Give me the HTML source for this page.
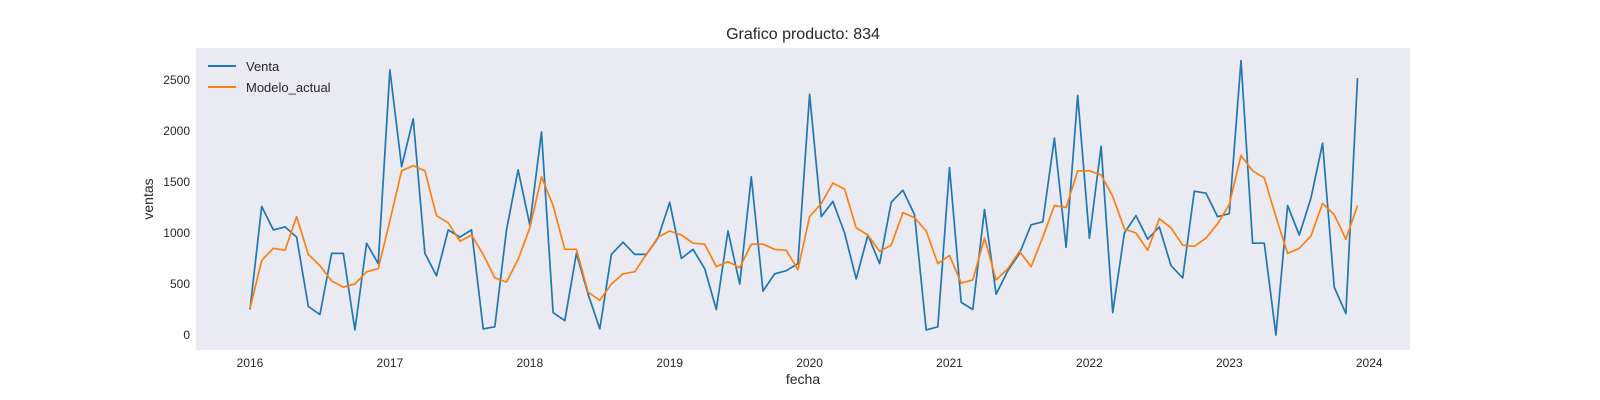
<!DOCTYPE html>
<html><head><meta charset="utf-8"><style>
body{margin:0;background:#fff;}
svg{display:block;font-family:"Liberation Sans",sans-serif;}
</style></head><body>
<svg id="chart" width="1600" height="400">
<rect x="196" y="48" width="1214" height="302" fill="#eaeaf2"/>
<text x="803" y="39" font-size="16" text-anchor="middle" fill="#262626">Grafico producto: 834</text>
<text x="803" y="384" font-size="14" text-anchor="middle" fill="#262626">fecha</text>
<text transform="translate(153,199) rotate(-90)" font-size="14" text-anchor="middle" fill="#262626">ventas</text>
<g id="xt"></g><g id="yt"></g><g id="lines"></g>
<g>
<line x1="208" y1="66" x2="236" y2="66" stroke="#1f77b4" stroke-width="2"/>
<text x="246" y="71" font-size="13" fill="#262626">Venta</text>
<line x1="208" y1="87" x2="236" y2="87" stroke="#ff7f0e" stroke-width="2"/>
<text x="246" y="92" font-size="13" fill="#262626">Modelo_actual</text>
</g>
</svg>
<script>
const years=[2016,2017,2018,2019,2020,2021,2022,2023,2024];
const yTicks=[0,500,1000,1500,2000,2500];
const venta=[250,1260,1030,1060,960,280,200,800,800,50,900,700,
2600,1650,2120,800,580,1030,960,1030,60,80,1030,1620,
1080,1990,220,140,800,400,60,790,910,790,790,950,
1300,750,840,650,250,1020,500,1550,430,600,630,700,
2360,1160,1310,1000,550,980,700,1300,1420,1180,50,80,
1640,320,250,1230,400,630,800,1080,1110,1930,860,2350,
950,1850,220,1000,1170,940,1060,680,560,1410,1390,1160,
1190,2690,900,900,0,1270,980,1340,1880,470,210,2520];
const modelo=[260,730,850,830,1160,790,680,530,470,500,620,650,
1120,1610,1660,1610,1170,1100,920,980,790,560,520,740,
1050,1550,1270,840,840,420,340,500,600,620,790,960,
1020,980,900,890,670,720,660,890,890,840,830,640,
1160,1290,1490,1430,1050,980,820,880,1200,1150,1020,700,
780,510,540,950,540,650,820,670,960,1270,1250,1610,
1610,1570,1360,1040,1000,830,1140,1050,880,870,950,1090,
1280,1760,1610,1540,1160,800,850,970,1290,1180,940,1270];
const NS="http://www.w3.org/2000/svg";
const xs=t=>250+(t-2016)*139.9;
const xi=i=>xs(2016+i/12);
const ys=v=>335-v*0.102;
const xt=document.getElementById('xt'),yt=document.getElementById('yt'),lg=document.getElementById('lines');
years.forEach(y=>{
 const t=document.createElementNS(NS,'text');
 
 
 t.setAttribute('x',xs(y));t.setAttribute('y',367);t.setAttribute('font-size','12');
 t.setAttribute('text-anchor','middle');t.setAttribute('fill','#262626');t.textContent=y;xt.appendChild(t);
});
yTicks.forEach(v=>{
 const t=document.createElementNS(NS,'text');
 
 
 t.setAttribute('x',190);t.setAttribute('y',ys(v)+4);t.setAttribute('font-size','12');
 t.setAttribute('text-anchor','end');t.setAttribute('fill','#262626');t.textContent=v;yt.appendChild(t);
});
function line(arr,color,name){
 const p=document.createElementNS(NS,'polyline');
 
 
 p.setAttribute('points',arr.map((v,i)=>xi(i).toFixed(1)+','+ys(v).toFixed(1)).join(' '));
 p.setAttribute('fill','none');p.setAttribute('stroke',color);p.setAttribute('stroke-width','1.7');
 p.setAttribute('stroke-linejoin','round');
 lg.appendChild(p);
}
line(venta,'#1f77b4','venta-line');
line(modelo,'#ff7f0e','modelo-line');
</script>
</body></html>
